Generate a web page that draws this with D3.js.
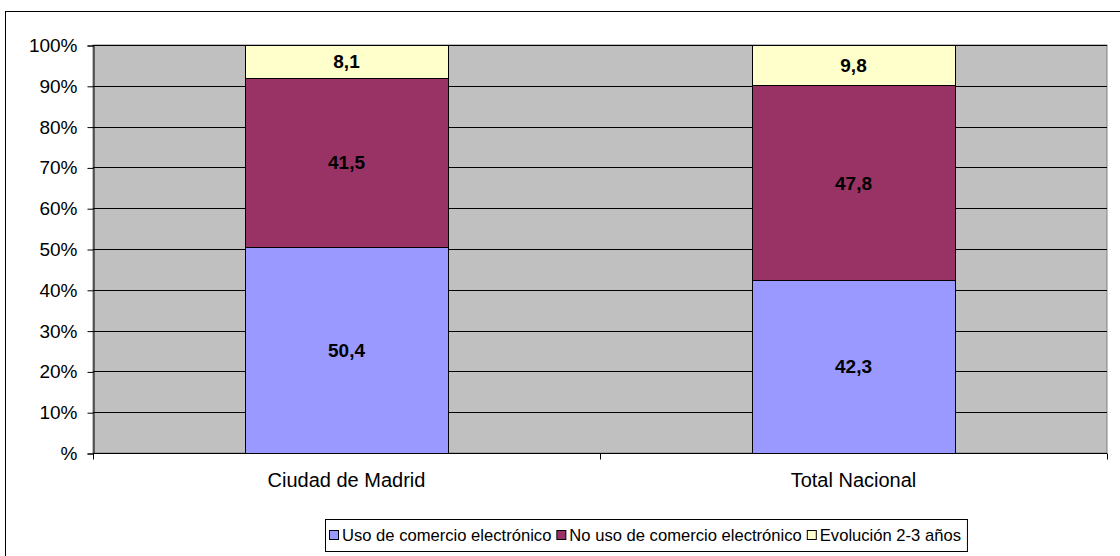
<!DOCTYPE html>
<html>
<head>
<meta charset="utf-8">
<script src="https://d3js.org/d3.v7.min.js"></script>
<style>
    body { margin: 0; background: #fff; }
    text { font-family: "Liberation Sans", Arial, sans-serif; }
    .tick-label { font-size: 19px; fill: #000; }
    .cat-label { font-size: 20px; fill: #000; }
    .bar-label { font-size: 19px; font-weight: bold; fill: #000; }
    .legend-label { font-size: 16.6px; fill: #000; }
</style>
</head>
<body>
<svg id="chart" width="1120" height="556"></svg>
<script>
var categories = ["Ciudad de Madrid", "Total Nacional"];
var seriesNames = ["Uso de comercio electrónico", "No uso de comercio electrónico", "Evolución 2-3 años"];
var usoValues = [50.4, 42.3];
var noUsoValues = [41.5, 47.8];
var evolucionValues = [8.1, 9.8];
var seriesColors = ["#9999ff", "#993366", "#ffffcc"];
var yTicks = [0, 10, 20, 30, 40, 50, 60, 70, 80, 90, 100];

var svg = d3.select("#chart");
var plot = { left: 93, right: 1107, top: 45, bottom: 453 };

// outer chart border (right/bottom run off the picture)
svg.append("rect")
    .attr("x", 5.5).attr("y", 11.5)
    .attr("width", 1130).attr("height", 560)
    .attr("fill", "#fff")
    .attr("stroke", "#000").attr("stroke-width", 1);

var x = d3.scaleBand().domain(categories).range([plot.left, plot.right]).paddingInner(0).paddingOuter(0);
var y = d3.scaleLinear().domain([0, 100]).range([plot.bottom, plot.top]);

// plot background
svg.append("rect")
    .attr("x", plot.left).attr("y", plot.top)
    .attr("width", plot.right - plot.left).attr("height", plot.bottom - plot.top)
    .attr("fill", "#c0c0c0")
    .attr("stroke", "#808080").attr("stroke-width", 1);

// gridlines
svg.append("g").selectAll("line")
    .data(yTicks.filter(function (d) { return d > 0; }))
    .enter().append("line")
    .attr("x1", plot.left).attr("x2", plot.right)
    .attr("y1", function (d) { return Math.round(y(d)) + 0.5; })
    .attr("y2", function (d) { return Math.round(y(d)) + 0.5; })
    .attr("stroke", "#000").attr("stroke-width", 1);

// y axis
var yAxis = svg.append("g")
    .attr("transform", "translate(" + (plot.left + 0.5) + ",0.5)")
    .call(d3.axisLeft(y).tickValues(yTicks).tickSize(6).tickPadding(10)
        .tickFormat(function (d) { return d === 0 ? "%" : d + "%"; }));
yAxis.selectAll("path, line").attr("stroke", "#000");
yAxis.selectAll("text").attr("class", "tick-label").attr("font-family", null).attr("font-size", null);

// stacked data
var rows = categories.map(function (c, i) {
    return { cat: c, uso: usoValues[i], noUso: noUsoValues[i], evol: evolucionValues[i] };
});
var stack = d3.stack().keys(["uso", "noUso", "evol"]);
var layers = stack(rows);

var barW = x.bandwidth() * 0.4;
var g = svg.append("g");
layers.forEach(function (layer, li) {
    g.selectAll(".seg" + li)
        .data(layer)
        .enter().append("rect")
        .attr("x", function (d) { return Math.round(x(d.data.cat) + (x.bandwidth() - barW) / 2) + 0.5; })
        .attr("y", function (d) { return Math.round(y(d[1])) + 0.5; })
        .attr("width", Math.round(barW))
        .attr("height", function (d) { return Math.round(y(d[0])) - Math.round(y(d[1])); })
        .attr("fill", seriesColors[li])
        .attr("stroke", "#000").attr("stroke-width", 1);

    g.selectAll(".lab" + li)
        .data(layer)
        .enter().append("text")
        .attr("class", "bar-label")
        .attr("x", function (d) { return x(d.data.cat) + x.bandwidth() / 2; })
        .attr("y", function (d) { return (y(d[0]) + y(d[1])) / 2; })
        .attr("dy", "0.35em")
        .attr("text-anchor", "middle")
        .text(function (d) { return (d[1] - d[0]).toFixed(1).replace(".", ","); });
});

// x axis
var xAxis = svg.append("g")
    .attr("transform", "translate(0," + (plot.bottom + 0.5) + ")");
xAxis.append("line")
    .attr("x1", plot.left).attr("x2", plot.right)
    .attr("stroke", "#000");
[plot.left, plot.left + x.bandwidth(), plot.right].forEach(function (px) {
    xAxis.append("line")
        .attr("x1", Math.round(px) + 0.5).attr("x2", Math.round(px) + 0.5)
        .attr("y1", 0).attr("y2", 6)
        .attr("stroke", "#000");
});
xAxis.selectAll(".cat")
    .data(categories)
    .enter().append("text")
    .attr("class", "cat-label")
    .attr("x", function (d) { return x(d) + x.bandwidth() / 2; })
    .attr("y", 33)
    .attr("text-anchor", "middle")
    .text(function (d) { return d; });

// legend
var legend = svg.append("g");
var legendBox = legend.append("rect")
    .attr("x", 325.5).attr("y", 519.5)
    .attr("height", 32)
    .attr("fill", "#fff").attr("stroke", "#000");
var lx = 329;
seriesNames.forEach(function (name, i) {
    legend.append("rect")
        .attr("x", lx + 0.5).attr("y", 530.5)
        .attr("width", 9).attr("height", 9)
        .attr("fill", seriesColors[i]).attr("stroke", "#000");
    var t = legend.append("text")
        .attr("class", "legend-label")
        .attr("x", lx + 13).attr("y", 541)
        .text(name);
    lx += 13 + t.node().getComputedTextLength() + 5;
});
legendBox.attr("width", lx - 325 + 1);
</script>
</body>
</html>
